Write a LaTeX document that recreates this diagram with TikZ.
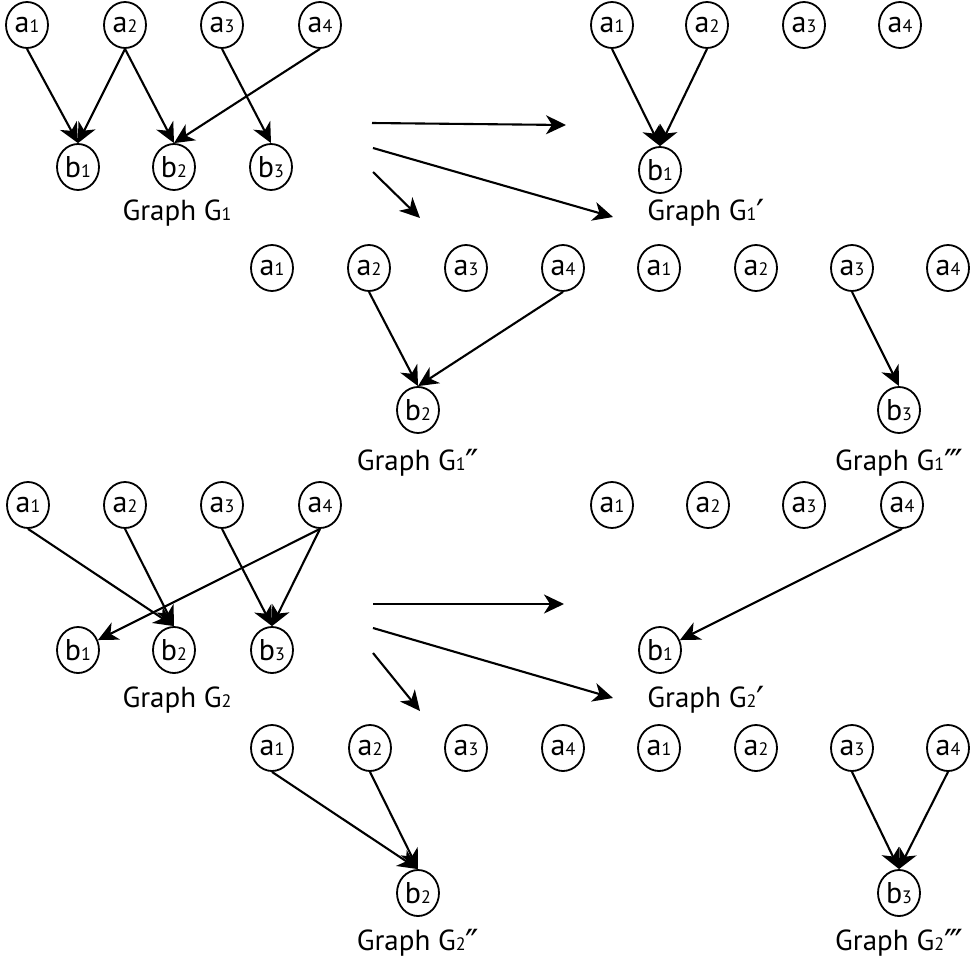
\documentclass[tikz,border=0pt]{standalone}
\usepackage{fontspec}
\setmainfont{PT Sans}
\newfontfamily\primefont{DejaVu Sans}
\usetikzlibrary{shapes.geometric,arrows.meta}

% vertex label: letter with a small digit set on the baseline
\newcommand\vlab[2]{#1{\fontsize{18}{18}\selectfont #2}}
% caption: Graph G with index and optional primes
\newcommand\glab[2]{Graph G{\fontsize{18}{18}\selectfont #1}\raisebox{-5pt}{\primefont\fontsize{36}{36}\selectfont #2}}

\begin{document}
\begin{tikzpicture}[x=1pt,y=-1pt,
  vtx/.style={ellipse, draw, line width=1.8pt, minimum width=42pt, minimum height=46pt,
              inner sep=0pt, font=\fontsize{30}{30}\selectfont},
  edge/.style={line width=2.1pt, -{Stealth[length=20pt,width=19pt,inset=6pt]}},
  gcaption/.style={font=\fontsize{29}{29}\selectfont}]
\useasboundingbox (0,0) rectangle (972,967);

% ---------- Graph G1 ----------
\foreach \n/\x in {1/27,2/125,3/222,4/320} \node[vtx] (Aa\n) at (\x,25) {\vlab{a}{\n}};
\foreach \n/\x in {1/78,2/174,3/271} \node[vtx] (Ab\n) at (\x,167) {\vlab{b}{\n}};
\node[gcaption] (Acap) at (177,213) {\glab{1}{}};
\draw[edge] (Aa1.south) -- (Ab1.north);
\draw[edge] (Aa2.south) -- (Ab1.north);
\draw[edge] (Aa2.south) -- (Ab2.north);
\draw[edge] (Aa4.south) -- (Ab2.north);
\draw[edge] (Aa3.south) -- (Ab3.north);

% ---------- Graph G1' ----------
\foreach \n/\x in {1/612,2/707,3/804,4/900} \node[vtx] (Ba\n) at (\x,25) {\vlab{a}{\n}};
\node[vtx] (Bb1) at (660,170) {\vlab{b}{1}};
\node[gcaption] (Bcap) at (706,213) {\glab{1}{′}};
\draw[edge] (Ba1.south) -- (Bb1.north);
\draw[edge] (Ba2.south) -- (Bb1.north);

% ---------- Graph G1'' ----------
\foreach \n/\x in {1/272,2/369,3/466,4/563} \node[vtx] (Ca\n) at (\x,268) {\vlab{a}{\n}};
\node[vtx] (Cb2) at (418,410) {\vlab{b}{2}};
\node[gcaption] (Ccap) at (418,463) {\glab{1}{″}};
\draw[edge] (Ca2.south) -- (Cb2.north);
\draw[edge] (Ca4.south) -- (Cb2.north);

% ---------- Graph G1''' ----------
\foreach \n/\x in {1/659,2/756,3/852,4/948} \node[vtx] (Da\n) at (\x,268) {\vlab{a}{\n}};
\node[vtx] (Db3) at (899,410) {\vlab{b}{3}};
\node[gcaption] (Dcap) at (899,463) {\glab{1}{‴}};
\draw[edge] (Da3.south) -- (Db3.north);

% ---------- Graph G2 ----------
\foreach \n/\x in {1/28,2/125,3/222,4/320} \node[vtx] (Ea\n) at (\x,505) {\vlab{a}{\n}};
\foreach \n/\x in {1/78,2/174,3/272} \node[vtx] (Eb\n) at (\x,650) {\vlab{b}{\n}};
\node[gcaption] (Ecap) at (177,700) {\glab{2}{}};
\draw[edge] (Ea1.south) -- (Eb2.north);
\draw[edge] (Ea2.south) -- (Eb2.north);
\draw[edge] (Ea4.south) -- (Eb1);
\draw[edge] (Ea3.south) -- (Eb3.north);
\draw[edge] (Ea4.south) -- (Eb3.north);

% ---------- Graph G2' ----------
\foreach \n/\x in {1/612,2/708,3/804,4/902} \node[vtx] (Fa\n) at (\x,505) {\vlab{a}{\n}};
\node[vtx] (Fb1) at (660,650) {\vlab{b}{1}};
\node[gcaption] (Fcap) at (706,700) {\glab{2}{′}};
\draw[edge] (Fa4.south) -- (Fb1);

% ---------- Graph G2'' ----------
\foreach \n/\x in {1/272,2/370,3/466,4/563} \node[vtx] (Ga\n) at (\x,748) {\vlab{a}{\n}};
\node[vtx] (Gb2) at (418,893) {\vlab{b}{2}};
\node[gcaption] (Gcap) at (418,943) {\glab{2}{″}};
\draw[edge] (Ga1.south) -- (Gb2.north);
\draw[edge] (Ga2.south) -- (Gb2.north);

% ---------- Graph G2''' ----------
\foreach \n/\x in {1/659,2/756,3/852,4/948} \node[vtx] (Ha\n) at (\x,748) {\vlab{a}{\n}};
\node[vtx] (Hb3) at (899,893) {\vlab{b}{3}};
\node[gcaption] (Hcap) at (899,943) {\glab{2}{‴}};
\draw[edge] (Ha3.south) -- (Hb3.north);
\draw[edge] (Ha4.south) -- (Hb3.north);

% ---------- decomposition arrows ----------
\coordinate (s1a) at (372,123); \coordinate (t1a) at (566,125);
\coordinate (s1b) at (373,148); \coordinate (t1b) at (613,217);
\coordinate (s1c) at (373,172); \coordinate (t1c) at (420,218);
\draw[edge] (s1a) -- (t1a);
\draw[edge] (s1b) -- (t1b);
\draw[edge] (s1c) -- (t1c);

\coordinate (s2a) at (373,604); \coordinate (t2a) at (564,604);
\coordinate (s2b) at (373,628); \coordinate (t2b) at (613,698);
\coordinate (s2c) at (373,653); \coordinate (t2c) at (420,711);
\draw[edge] (s2a) -- (t2a);
\draw[edge] (s2b) -- (t2b);
\draw[edge] (s2c) -- (t2c);
\end{tikzpicture}
\end{document}
